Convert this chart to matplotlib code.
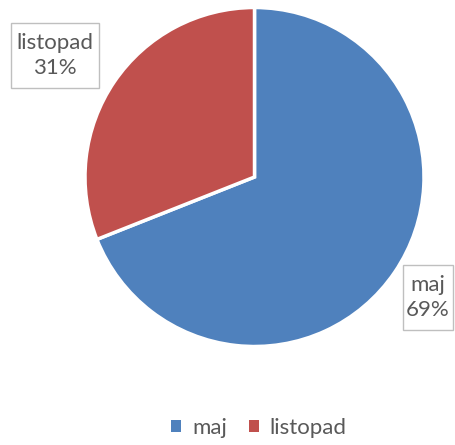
import matplotlib
matplotlib.use("Agg")
import matplotlib.pyplot as plt
from matplotlib.patches import Patch, Rectangle

labels = ["maj", "listopad"]
values = [69, 31]
colors = ["#4F81BD", "#C0504D"]

plt.rcParams['font.family'] = ['Lato', 'DejaVu Sans']
text_color = "#595959"

W, H = 456, 445
fig = plt.figure(figsize=(W / 100, H / 100), dpi=100)

# pie axes: centre ~(254.5, 177), radius ~169.5 px
cx, cy, r = 254.5, 177, 169.5
ax = fig.add_axes([(cx - r) / W, (H - cy - r) / H, 2 * r / W, 2 * r / H])
ax.pie(values, colors=colors, startangle=90, counterclock=False,
       wedgeprops=dict(edgecolor="white", linewidth=2.5))
ax.set_xlim(-1, 1)
ax.set_ylim(-1, 1)
ax.set_aspect("auto")
ax.axis("off")

# label boxes in pixel coords (x0, y0, x1, y1) from top-left
boxes = {"maj": (403, 265, 453, 330), "listopad": (11, 23, 99, 88)}
for lab, v in zip(labels, values):
    x0, y0, x1, y1 = boxes[lab]
    fig.patches.append(Rectangle((x0 / W, 1 - y1 / H), (x1 - x0) / W, (y1 - y0) / H,
                                 transform=fig.transFigure, facecolor="white",
                                 edgecolor="#BFBFBF", linewidth=1))
    fig.text((x0 + x1) / 2 / W, 1 - (y0 + y1) / 2 / H, f"{lab}\n{v}%", ha="center", va="center",
             fontsize=16, color=text_color, linespacing=1.3)

handles = [Patch(facecolor=c) for c in colors]
fig.legend(handles, labels, loc="center", bbox_to_anchor=(0.568, 1 - 428 / H),
           ncol=2, frameon=False, fontsize=16, labelcolor=text_color,
           handlelength=0.45, handleheight=0.45, handletextpad=0.5, columnspacing=0.95)

fig.savefig("out.png", dpi=100)
